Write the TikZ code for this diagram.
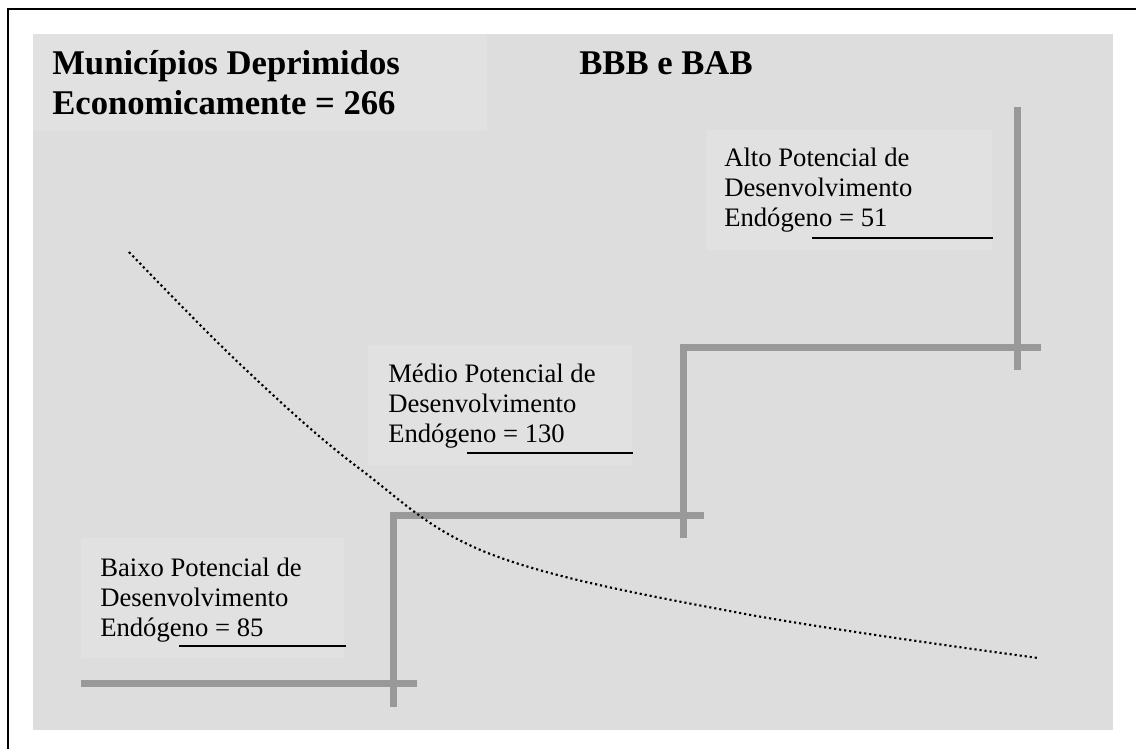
\documentclass[tikz,border=0pt]{standalone}
\usepackage{fontspec}
\setmainfont{Liberation Serif}
\usepackage{tikz}

\definecolor{fundo}{HTML}{DDDDDD}
\definecolor{caixa}{HTML}{E1E1E1}
\definecolor{degrau}{HTML}{999999}

\tikzset{
  barra/.style={draw=degrau, line width=5.25pt, line join=miter, line cap=butt},
  rotulo/.style={anchor=base west, align=left, inner sep=0pt, font=\fontsize{20}{22.5}\selectfont},
  titulo/.style={anchor=base west, align=left, inner sep=0pt, font=\fontsize{26}{30.75}\selectfont\bfseries},
  sublinha/.style={line width=1.2pt},
  curva/.style={line width=1.6pt, dash pattern=on 1.6pt off 2.2pt}
}

\begin{document}
\begin{tikzpicture}[x=0.75pt, y=-0.75pt]
                \useasboundingbox (0,0) rectangle (1136,749);

                % Moldura
                \draw[line width=1.5pt, line join=miter] (8,749) -- (8,9) -- (1136,9);

                % Fundo e caixas de texto
                \fill[fundo] (33,34) rectangle (1113,730);
                \fill[caixa] (33,34) rectangle (487,131);
                \fill[caixa] (706,130) rectangle (992,250);
                \fill[caixa] (368,345) rectangle (632,465);
                \fill[caixa] (81,538) rectangle (344,658);

                % Titulos (ancorados na ultima linha)
                \node[titulo] (municipios) at (52,115) {Municípios Deprimidos\\Economicamente = 266};
                \node[titulo] (bancos) at (579,75) {BBB e BAB};

                % Rotulos dos degraus
                \node[rotulo] (alto) at (724,226) {Alto Potencial de\\Desenvolvimento\\Endógeno = 51};
                \node[rotulo] (medio) at (388,442) {Médio Potencial de\\Desenvolvimento\\Endógeno = 130};
                \node[rotulo] (baixo) at (100,636) {Baixo Potencial de\\Desenvolvimento\\Endógeno = 85};

                \draw[sublinha] (812,238) -- (993,238);
                \draw[sublinha] (467,453) -- (633,453);
                \draw[sublinha] (179,646) -- (346,646);

                % Degraus
                \draw[barra] (81,683) -- (417,683);
                \draw[barra] (393,707) -- (393,515) -- (704,515);
                \draw[barra] (683,538) -- (683,347) -- (1041,347);
                \draw[barra] (1017,370) -- (1017,107);

                % Curva pontilhada
                \draw[curva] plot[smooth, tension=0.6] coordinates {(129,252) (243,367) (360,469) (493,555) (740,613) (1038,658)};
            \end{tikzpicture}
\end{document}
